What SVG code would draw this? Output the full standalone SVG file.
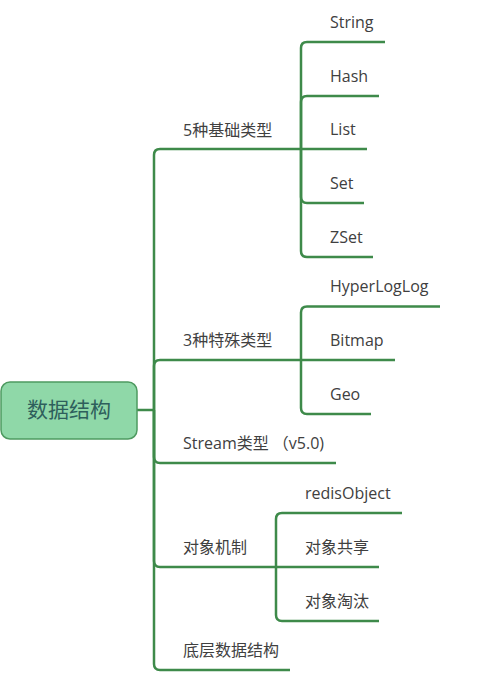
<svg xmlns="http://www.w3.org/2000/svg" width="481" height="700" viewBox="0 0 481 700">
<style>
.c{fill:none;stroke:#3e8a4a;stroke-width:2.5;stroke-linecap:butt;stroke-linejoin:round}
.t{font-family:"Open Sans","Noto Sans CJK SC",sans-serif;font-size:16px;fill:#404040}
.r{font-family:"Open Sans","Noto Sans CJK SC",sans-serif;font-size:21px;fill:#2e5f5c}
</style>
<rect width="481" height="700" fill="#ffffff"/>
<g id="connectors">
<path class="c" d="M137,410 H154"/>
<path class="c" d="M154,410 V155 Q154,149 160,149 H301"/>
<path class="c" d="M154,410 V366 Q154,360 160,360 H301"/>
<path class="c" d="M154,410 V457 Q154,463 160,463 H336"/>
<path class="c" d="M154,410 V561 Q154,567 160,567 H276"/>
<path class="c" d="M154,410 V664 Q154,670 160,670 H290"/>
<path class="c" d="M301,149 V48 Q301,42 307,42 H385"/>
<path class="c" d="M301,149 V102 Q301,96 307,96 H379"/>
<path class="c" d="M301,149 H367"/>
<path class="c" d="M301,149 V197 Q301,203 307,203 H364"/>
<path class="c" d="M301,149 V251 Q301,257 307,257 H373"/>
<path class="c" d="M301,360 V312.5 Q301,306.5 307,306.5 H440"/>
<path class="c" d="M301,360 H395"/>
<path class="c" d="M301,360 V408 Q301,414 307,414 H371"/>
<path class="c" d="M276,567 V519 Q276,513 282,513 H402"/>
<path class="c" d="M276,567 H379"/>
<path class="c" d="M276,567 V615 Q276,621 282,621 H379"/>
</g>
<g id="root">
<rect x="1" y="382" width="136" height="57" rx="9" fill="#8fd8a8" stroke="#4e9a60" stroke-width="1.5"/>
<text class="r" x="69" y="417" text-anchor="middle">数据结构</text>
</g>
<g id="n-basic"><text class="t" x="183" y="136">5种基础类型</text></g>
<g id="n-string"><text class="t" x="330" y="28">String</text></g>
<g id="n-hash"><text class="t" x="330" y="82">Hash</text></g>
<g id="n-list"><text class="t" x="330" y="135">List</text></g>
<g id="n-set"><text class="t" x="330" y="189">Set</text></g>
<g id="n-zset"><text class="t" x="330" y="243">ZSet</text></g>
<g id="n-special"><text class="t" x="183" y="346">3种特殊类型</text></g>
<g id="n-hll"><text class="t" x="330" y="292">HyperLogLog</text></g>
<g id="n-bitmap"><text class="t" x="330" y="346">Bitmap</text></g>
<g id="n-geo"><text class="t" x="330" y="400">Geo</text></g>
<g id="n-stream"><text class="t" x="183" y="449">Stream类型 （v5.0)</text></g>
<g id="n-object"><text class="t" x="183" y="553">对象机制</text></g>
<g id="n-redisobject"><text class="t" x="305" y="499">redisObject</text></g>
<g id="n-share"><text class="t" x="305" y="553">对象共享</text></g>
<g id="n-evict"><text class="t" x="305" y="607">对象淘汰</text></g>
<g id="n-low"><text class="t" x="183" y="656">底层数据结构</text></g>
</svg>
